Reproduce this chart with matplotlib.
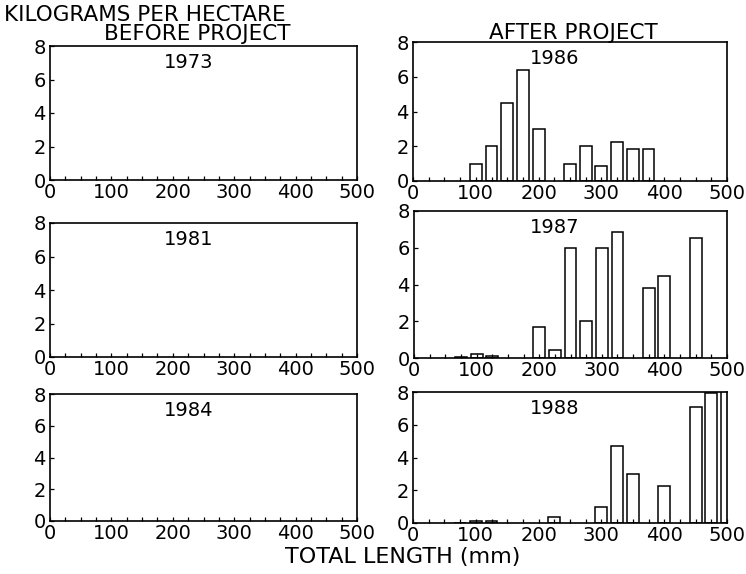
import numpy as np
import matplotlib.pyplot as plt

plt.rcParams['font.family'] = ['DejaVu Sans']

# --------------------------------
# Datos (kg/ha por clase de longitud total, mm)
# --------------------------------
lengths = [75, 100, 125, 150, 175, 200, 225, 250, 275, 300, 325, 350, 375, 400, 425, 450, 475, 500]

kg_1973 = [0] * len(lengths)
kg_1981 = [0] * len(lengths)
kg_1984 = [0] * len(lengths)
kg_1986 = [0, 1.0, 2.0, 4.5, 6.4, 3.0, 0, 1.0, 2.0, 0.85, 2.25, 1.85, 1.85, 0, 0, 0, 0, 0]
kg_1987 = [0.05, 0.2, 0.1, 0, 0, 1.7, 0.42, 6.0, 2.0, 6.0, 6.85, 0, 3.8, 4.45, 0, 6.55, 0, 0]
kg_1988 = [0.03, 0.15, 0.15, 0, 0, 0, 0.35, 0, 0, 1.0, 4.7, 3.0, 0, 2.25, 0, 7.1, 7.95, 8.6]

x_ticks = [0, 100, 200, 300, 400, 500]
y_ticks = [0, 2, 4, 6, 8]

W, H = 746, 574
fig = plt.figure(figsize=(W / 100, H / 100), dpi=100)


def px_axes(x0, y0, x1, y1):
    # caja en pixeles (origen arriba a la izquierda) -> fracciones de figura
    return fig.add_axes([x0 / W, 1 - y1 / H, (x1 - x0) / W, (y1 - y0) / H])


# (caja en pixeles, año, datos)
panels = [
    ((50, 46, 357, 180), '1973', kg_1973),
    ((50, 223, 357, 357), '1981', kg_1981),
    ((50, 394, 357, 521), '1984', kg_1984),
    ((413, 42, 727, 181), '1986', kg_1986),
    ((414, 211, 727, 358), '1987', kg_1987),
    ((413, 392, 727, 523), '1988', kg_1988),
]

for box, year, vals in panels:
    ax = px_axes(*box)
    x = np.array(lengths)
    v = np.array(vals, dtype=float)
    keep = v > 0
    if keep.any():
        ax.bar(x[keep], v[keep], width=19, color='white', edgecolor='black', linewidth=1.1)
    ax.set_xlim(0, 500)
    ax.set_ylim(0, 8)
    ax.set_xticks(x_ticks)
    ax.set_xticks(np.arange(0, 501, 25), minor=True)
    ax.set_yticks(y_ticks)
    ax.tick_params(axis='both', which='both', direction='in', length=3, width=0.9, labelsize=14)
    ax.tick_params(axis='x', pad=2)
    ax.tick_params(axis='y', pad=3)
    for s in ax.spines.values():
        s.set_linewidth(1.2)
    h = box[3] - box[1]
    ax.text(0.45, 1 - 16.5 / h, year, transform=ax.transAxes, ha='center', va='center', fontsize=14)

fig.text(4 / W, 1 - 15 / H, 'KILOGRAMS PER HECTARE', ha='left', va='center', fontsize=15.5)
fig.text(197 / W, 1 - 34 / H, 'BEFORE PROJECT', ha='center', va='center', fontsize=15.5)
fig.text(573 / W, 1 - 33 / H, 'AFTER PROJECT', ha='center', va='center', fontsize=15.5)
fig.text(403 / W, 1 - 557 / H, 'TOTAL LENGTH (mm)', ha='center', va='center', fontsize=16)

fig.savefig('out.png', dpi=100)
